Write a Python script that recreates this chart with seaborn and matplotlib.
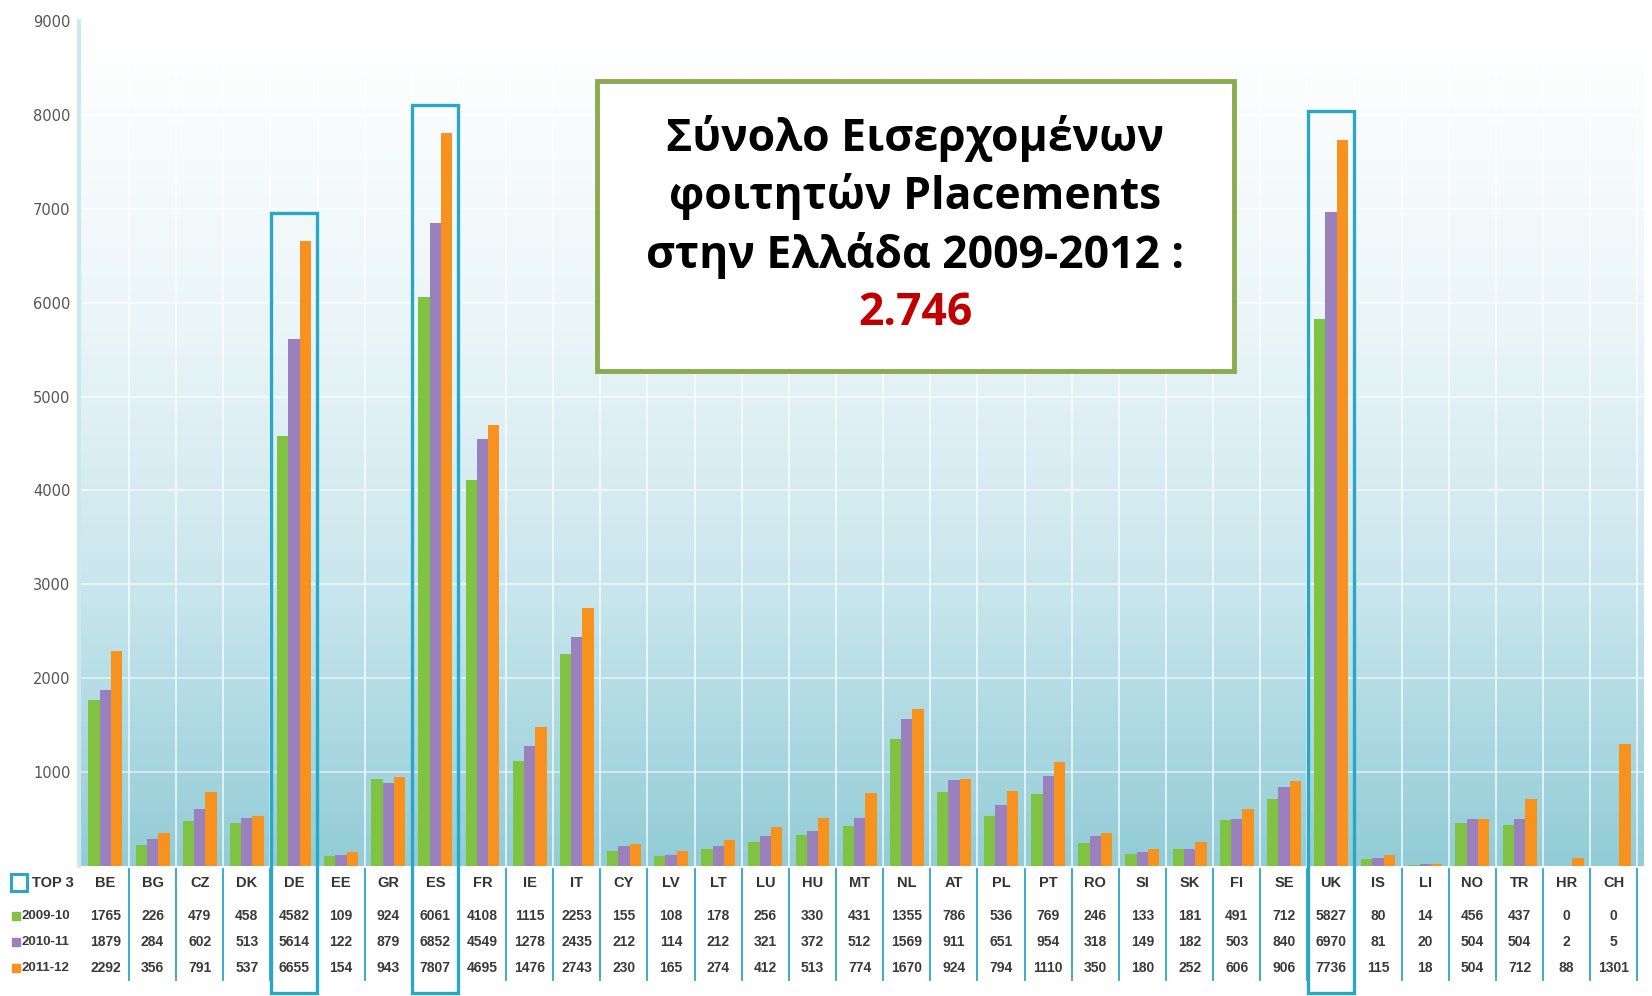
import numpy as np
import pandas as pd
import matplotlib
matplotlib.use("Agg")
import matplotlib.pyplot as plt
import seaborn as sns
from matplotlib.colors import LinearSegmentedColormap
from matplotlib.patches import Rectangle

# data
countries = ["BE", "BG", "CZ", "DK", "DE", "EE", "GR", "ES", "FR", "IE", "IT",
             "CY", "LV", "LT", "LU", "HU", "MT", "NL", "AT", "PL", "PT", "RO",
             "SI", "SK", "FI", "SE", "UK", "IS", "LI", "NO", "TR", "HR", "CH"]
years = ["2009-10", "2010-11", "2011-12"]
y2009 = [1765, 226, 479, 458, 4582, 109, 924, 6061, 4108, 1115, 2253,
         155, 108, 178, 256, 330, 431, 1355, 786, 536, 769, 246,
         133, 181, 491, 712, 5827, 80, 14, 456, 437, 0, 0]
y2010 = [1879, 284, 602, 513, 5614, 122, 879, 6852, 4549, 1278, 2435,
         212, 114, 212, 321, 372, 512, 1569, 911, 651, 954, 318,
         149, 182, 503, 840, 6970, 81, 20, 504, 504, 2, 5]
y2011 = [2292, 356, 791, 537, 6655, 154, 943, 7807, 4695, 1476, 2743,
         230, 165, 274, 412, 513, 774, 1670, 924, 794, 1110, 350,
         180, 252, 606, 906, 7736, 115, 18, 504, 712, 88, 1301]
top3 = ["DE", "ES", "UK"]
yticks = [1000, 2000, 3000, 4000, 5000, 6000, 7000, 8000, 9000]
title_lines = ["Σύνολο Εισερχομένων", "φοιτητών Placements", "στην Ελλάδα 2009-2012 :"]
total_text = "2.746"

colors = ["#80c241", "#9a80bd", "#f7921e"]
box_color = "#2aa6c6"

series = [y2009, y2010, y2011]
df = pd.DataFrame({
    "country": countries * 3,
    "year": np.repeat(years, len(countries)),
    "value": y2009 + y2010 + y2011,
})

fig = plt.figure(figsize=(16.52, 9.96), dpi=100)
ax = fig.add_axes([79 / 1652, 0.1305, 1565 / 1652, 0.979 - 0.1305])

xmin, xmax = -0.56, 32.64

# background gradient: white at top, light teal at the base
cmap = LinearSegmentedColormap.from_list("bg", ["#ffffff", "#eaf5f8", "#c6e5ec", "#92ccd7"])
grad = np.linspace(0, 1, 256).reshape(-1, 1) ** 1.1
ax.imshow(grad, extent=[xmin, xmax, 0, 9000], aspect="auto", cmap=cmap, zorder=0)

sns.barplot(data=df, x="country", y="value", hue="year", palette=colors,
            width=0.72, saturation=1, ax=ax, legend=False, edgecolor="none", zorder=3)

for i in range(len(countries)):
    ax.axvline(i + 0.5, color="white", lw=1.2, alpha=0.8, zorder=1)
for t in yticks:
    ax.axhline(t, color="white", lw=1.2, alpha=0.6, zorder=1)

ax.set_xlim(xmin, xmax)
ax.set_ylim(0, 9000)
ax.set_yticks(yticks)
ax.set_yticklabels([str(t) for t in yticks], fontsize=10.5, color="#555555")
ax.tick_params(axis="y", length=0, pad=6)
ax.set_xticks([])
ax.set_xlabel("")
ax.set_ylabel("")
for s in ["top", "right", "bottom"]:
    ax.spines[s].set_visible(False)
ax.spines["left"].set_color("#cde8ee")
ax.spines["left"].set_linewidth(3)

# table under the bars
tr = ax.get_xaxis_transform()
row_y = [-0.020, -0.059, -0.090, -0.121]
for i, c in enumerate(countries):
    ax.text(i, row_y[0], c, transform=tr, ha="center", va="center",
            fontsize=10.5, fontweight="bold", color="#333333", family="Liberation Sans")
    for r, vals in enumerate(series):
        ax.text(i, row_y[r + 1], str(vals[i]), transform=tr, ha="center", va="center",
                fontsize=10, fontweight="bold", color="#3a3a3a", family="Liberation Sans")
    ax.plot([i + 0.5, i + 0.5], [-0.004, -0.135], transform=tr, color=box_color,
            lw=1.3, clip_on=False, zorder=2)

# row labels
fig.patches.append(Rectangle((11 / 1652, 1 - 891 / 996), 16 / 1652, 17 / 996,
                             transform=fig.transFigure, fill=False,
                             edgecolor=box_color, lw=2.2))
fig.text(32 / 1652, 1 - 883 / 996, "TOP 3", ha="left", va="center",
         fontsize=10.5, fontweight="bold", color="#333333", family="Liberation Sans")
for r, (yr, col) in enumerate(zip(years, colors)):
    ypix = [916, 942, 968][r]
    fig.patches.append(Rectangle((12 / 1652, 1 - (ypix + 4) / 996), 8 / 1652, 8 / 996,
                                 transform=fig.transFigure, color=col))
    fig.text(22 / 1652, 1 - ypix / 996, yr, ha="left", va="center",
             fontsize=9.5, fontweight="bold", color="#3a3a3a", family="Liberation Sans")

# top 3 boxes
for c in top3:
    i = countries.index(c)
    top = max(s[i] for s in series) + 300
    ax.add_patch(Rectangle((i - 0.49, -0.15), 0.98, top / 9000 + 0.15,
                           transform=tr, fill=False, edgecolor=box_color,
                           lw=2.4, clip_on=False, zorder=5))

# title box
fig.patches.append(Rectangle((597 / 1652, 1 - 371 / 996), 637 / 1652, 290 / 996,
                             transform=fig.transFigure, facecolor="white",
                             edgecolor="#8aab4f", lw=3.5, zorder=6))
line_y = [139, 197, 255]
for txt, yp in zip(title_lines, line_y):
    fig.text(915.5 / 1652, 1 - yp / 996, txt, ha="center", va="center",
             fontsize=32, fontweight="bold", color="black",
             family=["Open Sans", "DejaVu Sans"], zorder=7)
fig.text(915.5 / 1652, 1 - 313 / 996, total_text, ha="center", va="center",
         fontsize=32, fontweight="bold", color="#c00000",
         family=["Open Sans", "DejaVu Sans"], zorder=7)

fig.savefig("out.png", dpi=100)
